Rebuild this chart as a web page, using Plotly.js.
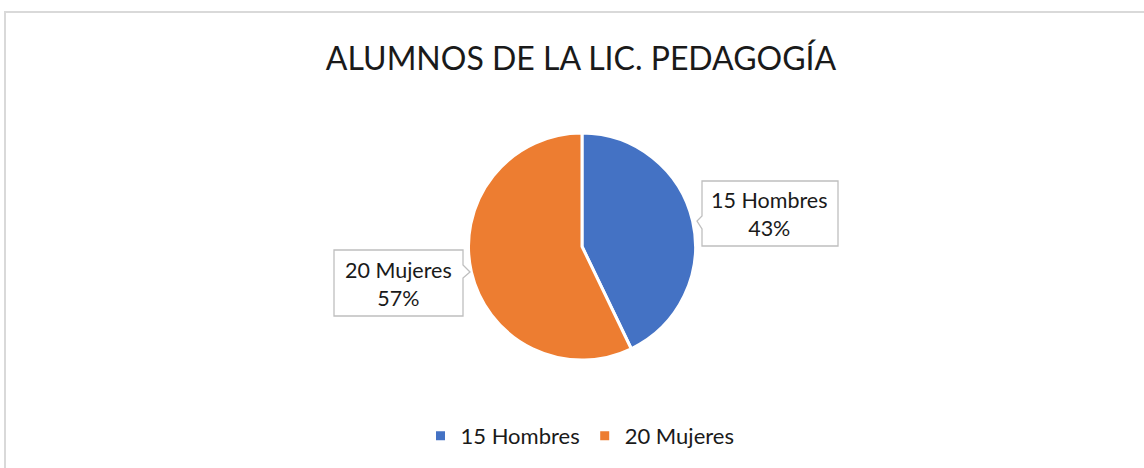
<!DOCTYPE html>
<html><head><meta charset="utf-8">
<script src="https://cdn.plot.ly/plotly-3.0.1.min.js"></script>
<style>html,body{margin:0;padding:0;background:#fff;}#chart{width:1144px;height:468px;}</style>
</head><body><div id="chart"></div>
<script>
const categories = ["15 Hombres", "20 Mujeres"];
const values = [15, 20];
const colors = ["#4472C4", "#ED7D31"];
const titleText = "ALUMNOS DE LA LIC. PEDAGOGÍA";

const W = 1144, H = 468;
const px = x => x / W, py = y => 1 - y / H;
const total = values.reduce((a, b) => a + b, 0);
const pct = values.map(v => Math.round(v / total * 100) + "%");
const FONT = "Lato, 'Open Sans', sans-serif";

function pathPx(pts) {
  return pts.map((p, i) => (i ? "L" : "M") + px(p[0]) + "," + py(p[1])).join(" ") + " Z";
}

const shapes = [
  {type: "rect", xref: "paper", yref: "paper", x0: px(5), x1: px(1150), y0: py(12), y1: py(475),
   line: {color: "#d9d9d9", width: 2}, fillcolor: "rgba(0,0,0,0)", layer: "below"},
  {type: "path", xref: "paper", yref: "paper",
   path: pathPx([[702,181],[838,181],[838,246],[702,246],[702,229],[697,221],[702,216]]),
   line: {color: "#bfbfbf", width: 1.3}, fillcolor: "#ffffff"},
  {type: "path", xref: "paper", yref: "paper",
   path: pathPx([[334,250],[463,250],[463,265],[470,272],[463,278],[463,316],[334,316]]),
   line: {color: "#bfbfbf", width: 1.3}, fillcolor: "#ffffff"}
];

const labelPos = [[769, 214], [398, 284]];
const annotations = categories.map((c, i) => ({
  xref: "paper", yref: "paper", x: px(labelPos[i][0]), y: py(labelPos[i][1]),
  xanchor: "center", yanchor: "middle", showarrow: false,
  text: c + "<br>" + pct[i], align: "center",
  font: {family: FONT, size: 21.5, color: "#1a1a1a"}
}));

const data = [{
  type: "pie", labels: categories, values: values, sort: false, direction: "clockwise", rotation: 0,
  marker: {colors: colors, line: {color: "#ffffff", width: 3}},
  textinfo: "none", hoverinfo: "label+percent",
  domain: {x: [px(468), px(696)], y: [py(360), py(133)]}
}];

const layout = {
  width: W, height: H, margin: {l: 0, r: 0, t: 0, b: 0},
  paper_bgcolor: "#ffffff", plot_bgcolor: "#ffffff",
  title: {text: titleText, x: px(581), y: py(59), xanchor: "center", yanchor: "middle",
          font: {family: FONT, size: 32, color: "#1a1a1a"}},
  showlegend: true,
  legend: {orientation: "h", x: px(580), xanchor: "center", y: py(436), yanchor: "middle",
           font: {family: FONT, size: 22, color: "#1a1a1a"}, itemwidth: 30, traceorder: "normal"},
  shapes: shapes, annotations: annotations
};
Plotly.newPlot("chart", data, layout, {displayModeBar: false, staticPlot: true});
</script></body></html>
